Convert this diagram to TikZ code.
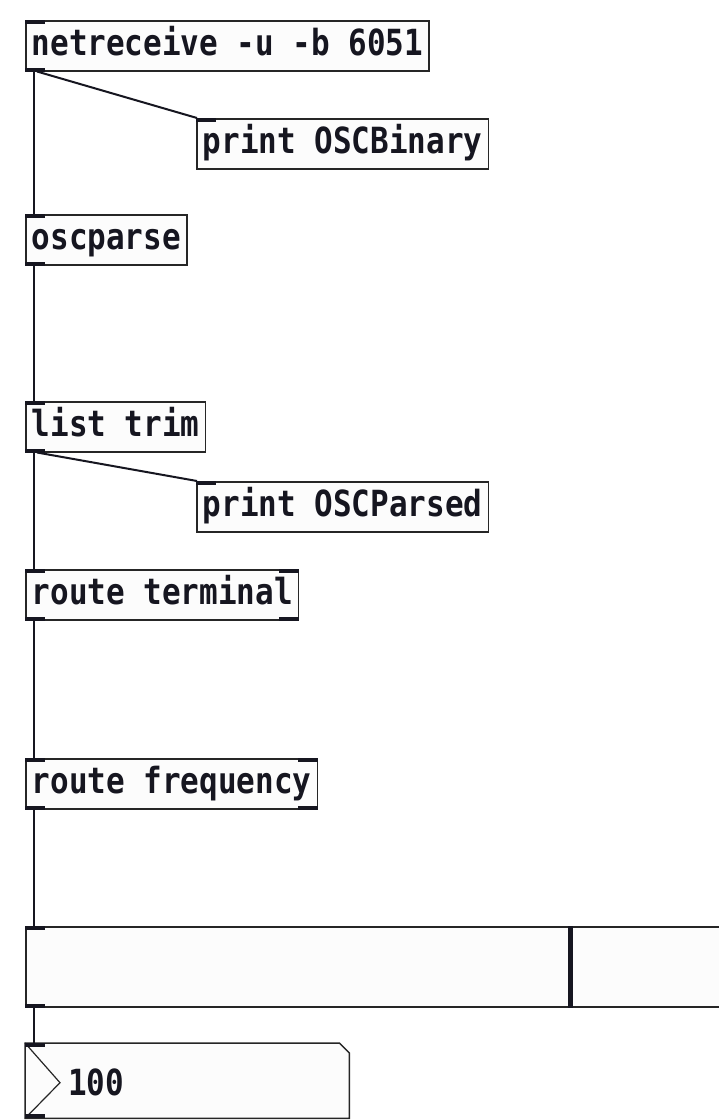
\documentclass[tikz,border=0pt]{standalone}
\usepackage{fontspec}
\usepackage{tikz}
\newfontfamily\pdfont[FakeStretch=0.86]{DejaVu Sans Mono}
\definecolor{pdInk}{RGB}{22,22,32}
\definecolor{pdEdge}{RGB}{38,38,38}
\definecolor{pdFill}{RGB}{252,252,252}
% little dark bars for inlets and outlets
\newcommand{\pdport}[3]{\fill[pdInk] (#1) rectangle ++(#2,#3);}

\begin{document}
\begin{tikzpicture}[x=1pt,y=-1pt,
    pdobj/.style={draw=pdEdge,fill=pdFill,line width=1.5pt,anchor=north west,
      inner xsep=6pt,inner ysep=0pt,text height=35pt,text depth=15pt,
      font=\pdfont\bfseries\fontsize{36}{40}\selectfont,text=pdInk},
    pdgui/.style={anchor=north west,inner sep=0pt},
    pdwire/.style={draw=pdInk,line width=2pt}]
  \useasboundingbox (0,0) rectangle (719,1120);
  \clip (0,0) rectangle (719,1120);
  \fill[white] (0,0) rectangle (719,1120);

  \node[pdobj] (netrecv) at (25,20) {netreceive -u -b 6051};
  \node[pdobj] (printbin) at (196,118) {print OSCBinary};
  \node[pdobj] (parse) at (25,214) {oscparse};
  \node[pdobj] (trim) at (25,401) {list trim};
  \node[pdobj] (printparsed) at (196,481) {print OSCParsed};
  \node[pdobj] (term) at (25,569) {route terminal};
  \node[pdobj] (freq) at (25,758) {route frequency};

  % hslider and number box
  \node[pdgui,draw=pdEdge,fill=pdFill,line width=1.5pt,minimum width=720pt,minimum height=80pt] (hsl) at (25,926) {};
  \draw[pdInk,line width=5pt] ([xshift=545pt]hsl.north west) -- ([xshift=545pt]hsl.south west);
  \node[pdgui,minimum width=324pt,minimum height=75pt] (numbox) at (25,1043) {};
  \draw[draw=pdEdge,fill=pdFill,line width=1.5pt] (numbox.north west) -- ([xshift=-10pt]numbox.north east)
    -- ([yshift=-10pt]numbox.north east) -- (numbox.south east) -- (numbox.south west) -- cycle;
  \draw[pdEdge,line width=1.2pt] (numbox.north west) -- ([xshift=35pt,yshift=-2pt]numbox.west) -- (numbox.south west);
  \node[anchor=base west,inner sep=0pt,font=\pdfont\bfseries\fontsize{36}{40}\selectfont,text=pdInk]
    (numval) at (68,1095) {100};

  % connections
  \foreach \a/\b in {netrecv/parse,parse/trim,trim/term,term/freq,freq/hsl,hsl/numbox}
    {\draw[pdwire] ([xshift=9pt]\a.south west) -- ([xshift=9pt]\b.north west);}
  \draw[pdwire] ([xshift=12pt]netrecv.south west) -- ([xshift=1pt]printbin.north west);
  \draw[pdwire] ([xshift=12pt]trim.south west) -- ([xshift=1pt]printparsed.north west);

  \foreach \n in {netrecv,printbin,parse,trim,printparsed,term,freq,hsl,numbox}
    {\pdport{\n.north west}{20}{4}}
  \foreach \n in {netrecv,parse,trim,term,freq,hsl,numbox}
    {\pdport{\n.south west}{20}{-4}}
  \foreach \n in {term,freq}
    {\pdport{\n.north east}{-20}{4}\pdport{\n.south east}{-20}{-4}}
\end{tikzpicture}
\end{document}
